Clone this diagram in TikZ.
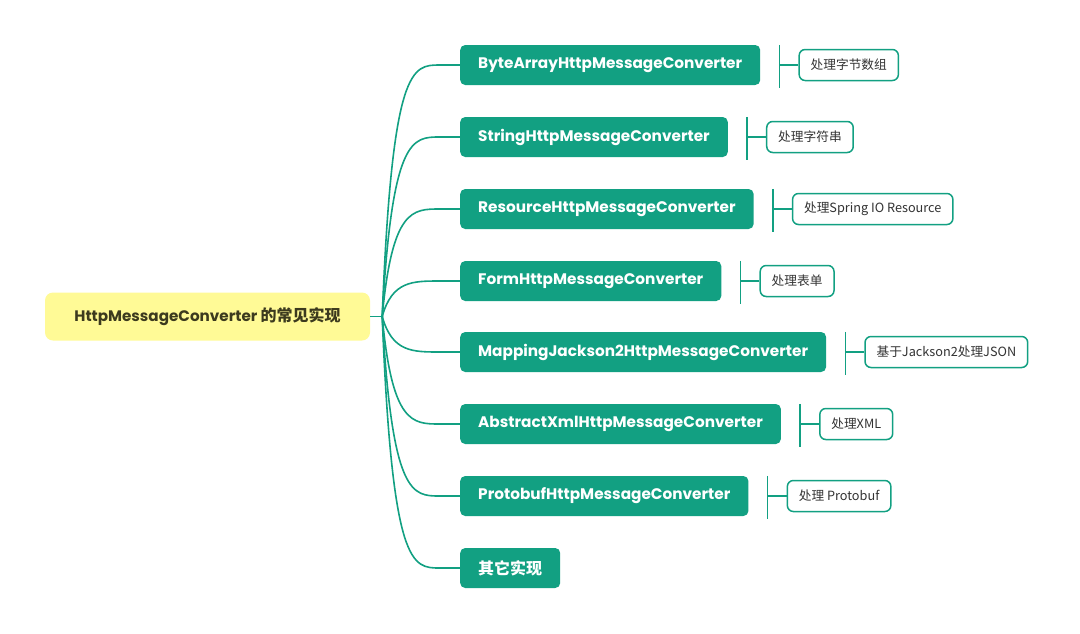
\documentclass[tikz,border=0pt]{standalone}
\usepackage{fontspec}
\usetikzlibrary{positioning,calc}
\newfontfamily\latinfont{Poppins}
\newfontfamily\cjk{Noto Sans CJK SC}
\definecolor{convgreen}{RGB}{18,160,130}
\definecolor{rootyellow}{RGB}{255,250,150}
\definecolor{roottext}{RGB}{60,58,30}
\tikzset{
  conv/.style={fill=convgreen, text=white, rounded corners=5pt, minimum height=40pt,
    inner xsep=18pt, anchor=west, font=\latinfont\bfseries\fontsize{15.3}{18}\selectfont},
  note/.style={draw=convgreen, line width=1.5pt, fill=white, rounded corners=6pt,
    minimum height=31pt, inner xsep=11.5pt, text=black!80, font=\cjk\fontsize{12.7}{15}\selectfont},
  link/.style={convgreen, line width=1.6pt},
}
\begin{document}
\begin{tikzpicture}[x=1pt,y=-1pt]
    \useasboundingbox (0,0) rectangle (1080,633);
    \node[fill=rootyellow, rounded corners=8pt, minimum width=325pt, minimum height=48pt, text=roottext]
      (root) at (207.5,316.5) {\latinfont\bfseries\fontsize{15.2}{18}\selectfont HttpMessageConverter {\cjk\fontsize{16}{18}\selectfont 的常见实现}};
    \coordinate (hub) at ($(root.east)+(12,0)$);
    \draw[link] (root.east) -- (hub);
    % converters
    \foreach \i/\y/\t in {1/65/ByteArrayHttpMessageConverter, 2/137/StringHttpMessageConverter,
        3/209/ResourceHttpMessageConverter, 4/281/FormHttpMessageConverter,
        5/352/MappingJackson2HttpMessageConverter, 6/424/AbstractXmlHttpMessageConverter,
        7/496/ProtobufHttpMessageConverter, 8/568/{\cjk\fontsize{16}{18}\selectfont 其它实现}} {
      \node[conv] (b\i) at (460,\y) {\t};
      \draw[link] (hub) .. controls ($(hub |- b\i.west)+(10,0)$) and ($(hub |- b\i.west)+(30,0)$) .. ($(b\i.west)+(-20,0)$) -- (b\i.west);
    }
    % notes
    \foreach \i/\t in {1/处理字节数组, 2/处理字符串, 3/处理Spring IO Resource, 4/处理表单,
        5/基于Jackson2处理JSON, 6/处理XML, 7/处理 Protobuf} {
      \node[note, right=38pt of b\i] (n\i) {\t};
      \coordinate (k\i) at ($(b\i.east)!0.5!(n\i.west)$);
      \draw[link] (k\i |- b\i.north) -- ($(k\i |- b\i.south)+(0,3)$);
      \draw[link] (k\i) -- (n\i.west);
    }
\end{tikzpicture}
\end{document}
